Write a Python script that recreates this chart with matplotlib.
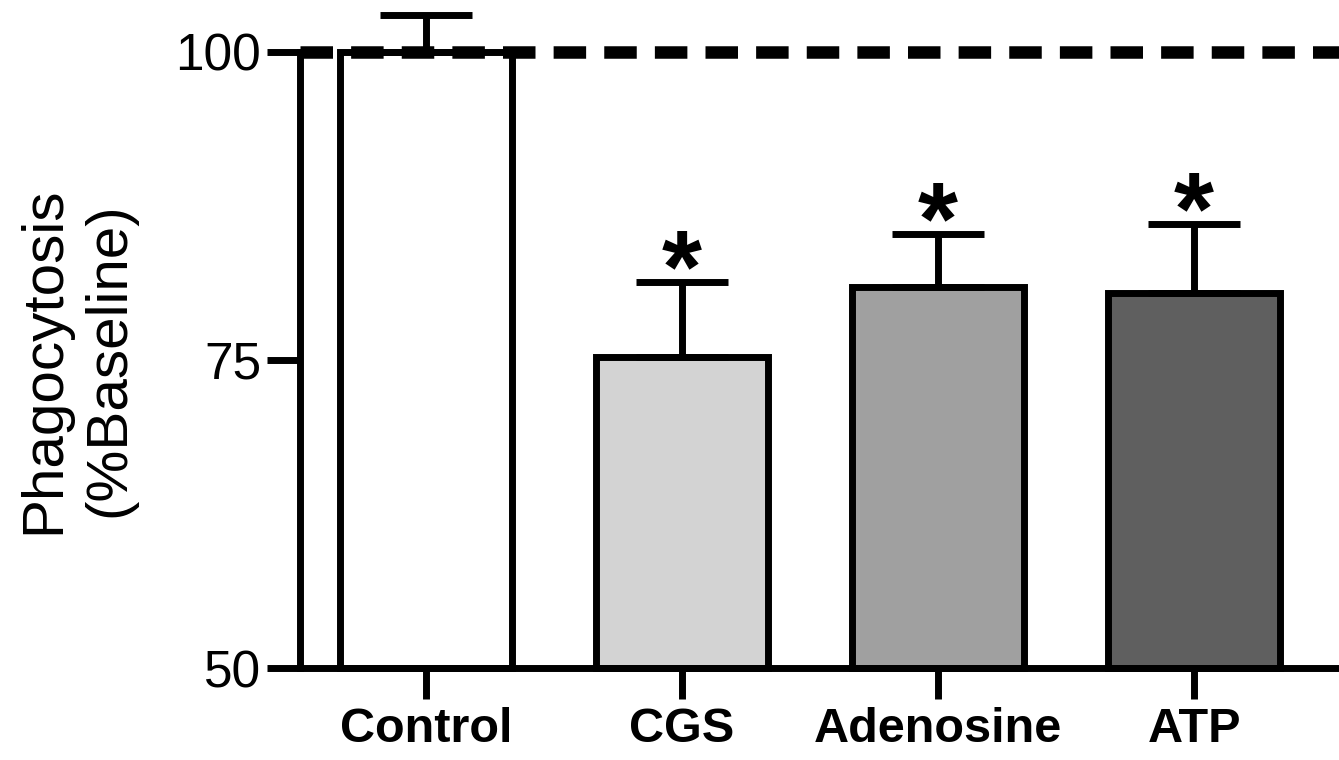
import numpy as np
import matplotlib.pyplot as plt

plt.rcParams['font.family'] = ['Liberation Sans', 'DejaVu Sans']

groups = ['Control', 'CGS', 'Adenosine', 'ATP']
means = [100.0, 75.2, 80.9, 80.4]
sems = [3.0, 6.1, 4.3, 5.6]
colors = ['#ffffff', '#d3d3d3', '#a0a0a0', '#5f5f5f']
stars = ['', '*', '*', '*']

fig = plt.figure(figsize=(13.39, 7.6), dpi=100)
ax = fig.add_axes([0.224, 0.121, 0.776, 0.811])

x = np.arange(len(groups))
ax.bar(x, [m - 50 for m in means], bottom=50, width=0.67, color=colors,
       edgecolor='black', linewidth=5, zorder=2, clip_on=False)
ax.errorbar(x, means, yerr=[np.zeros(len(sems)), sems], fmt='none',
            ecolor='black', elinewidth=5, capsize=33, capthick=5,
            clip_on=False, zorder=3)

ax.axhline(100, color='black', lw=9, dashes=(2.6, 1.45), dash_capstyle='butt',
           zorder=4, clip_on=False)

# significance stars above the error bars
for xi, m, s, st in zip(x, means, sems, stars):
    if st:
        ax.annotate(st, (xi, m + s), xytext=(0, -30), textcoords='offset points',
                    ha='center', va='bottom', fontsize=74, fontweight='bold')

ax.set_xlim(-0.492, 3.566)
ax.set_ylim(50, 100)
ax.set_yticks([50, 75, 100])
ax.set_xticks(x)
ax.set_xticklabels(groups, fontsize=35, fontweight='bold')
ax.tick_params(axis='y', labelsize=37, length=24, width=5, pad=4, direction='out')
ax.tick_params(axis='x', length=22, width=5, pad=6, direction='out')
ax.set_ylabel('Phagocytosis\n(%Baseline)', fontsize=42, linespacing=1.25)
ax.yaxis.set_label_coords(-0.2146, 0.5)
ax.yaxis.label.set_va('center')

ax.spines['top'].set_visible(False)
ax.spines['right'].set_visible(False)
ax.spines['left'].set_linewidth(5)
ax.spines['bottom'].set_linewidth(5)

fig.savefig('out.png', dpi=100)
